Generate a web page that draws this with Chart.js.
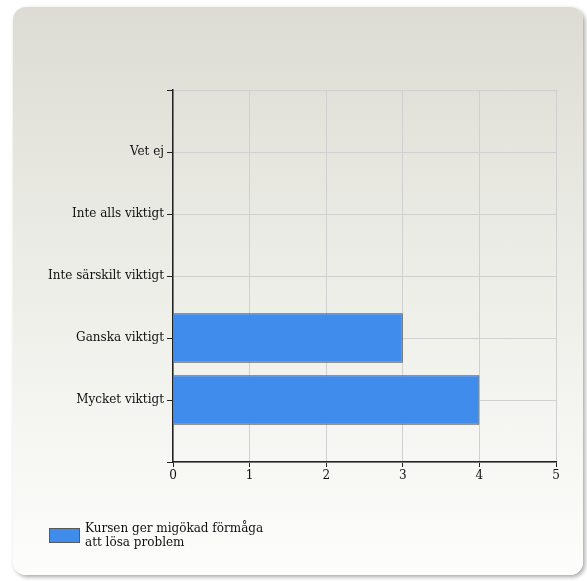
<!DOCTYPE html>
<html>
<head>
<meta charset="utf-8">
<script src="https://cdn.jsdelivr.net/npm/chart.js@4/dist/chart.umd.min.js"></script>
<style>
  html, body { margin: 0; padding: 0; background: #fff; }
  #wrap { position: relative; width: 587px; height: 581px; overflow: hidden; }
  #panel {
    position: absolute; left: 13px; top: 7px; width: 570px; height: 568px;
    border-radius: 13px;
    background: linear-gradient(#dcdcd4 0%, #ebebe5 40%, #fdfdfb 100%);
    box-shadow: 2px 2px 4px rgba(0,0,0,0.35);
  }
  canvas { position: absolute; left: 0; top: 0; }
  #legend {
    position: absolute; left: 49px; top: 521px;
    font-family: "DejaVu Serif", "Liberation Serif", serif; font-size: 12px; color: #111; line-height: 14px;
  }
  #legend .box {
    position: absolute; left: 0; top: 7px; width: 29px; height: 13px;
    background: #3f8ced; border: 1px solid #5a5a5a;
  }
  #legend .txt { position: absolute; left: 36px; top: 0; white-space: nowrap; }
</style>
</head>
<body>
<div id="wrap">
  <div id="panel"></div>
  <canvas id="c" width="587" height="581"></canvas>
  <div id="legend"><div class="box"></div><div class="txt" id="legendText"></div></div>
</div>
<script>
const categories = ['Vet ej', 'Inte alls viktigt', 'Inte särskilt viktigt', 'Ganska viktigt', 'Mycket viktigt'];
const values = [0, 0, 0, 3, 4];
const xTicks = [0, 1, 2, 3, 4, 5];
const seriesName = ['Kursen ger migökad förmåga', 'att lösa problem'];

document.getElementById('legendText').innerHTML = seriesName.join('<br>');

// one empty slot above and below, like the original
const labels = [''].concat(categories, ['']);
const data = [null].concat(values, [null]);

const font = { family: '"DejaVu Serif", "Liberation Serif", serif', size: 12 };

new Chart(document.getElementById('c'), {
  type: 'bar',
  data: {
    labels,
    datasets: [{
      label: seriesName.join(' '),
      data,
      backgroundColor: '#3f8ced',
      borderColor: '#4a4a4a',
      borderWidth: 1,
      barPercentage: 0.8,
      categoryPercentage: 1
    }]
  },
  options: {
    indexAxis: 'y',
    responsive: false,
    animation: false,
    layout: { padding: { left: 0, top: 90, right: 31, bottom: 89 } },
    plugins: { legend: { display: false }, tooltip: { enabled: false } },
    scales: {
      x: {
        min: 0, max: 5,
        afterBuildTicks: s => { s.ticks = xTicks.map(v => ({ value: v })); },
        afterFit: s => { s.height = 30; },
        grid: { color: '#d0d0d0', tickColor: '#222', tickLength: 5 },
        border: { color: '#222', width: 1.5 },
        ticks: { color: '#111', font, padding: 2 }
      },
      y: {
        offset: false,
        afterFit: s => { s.width = 173; },
        grid: { offset: false, color: '#d0d0d0', tickColor: '#222', tickLength: 6 },
        border: { color: '#222', width: 1.5 },
        ticks: { color: '#111', font, padding: 3, autoSkip: false }
      }
    }
  }
});
</script>
</body>
</html>
